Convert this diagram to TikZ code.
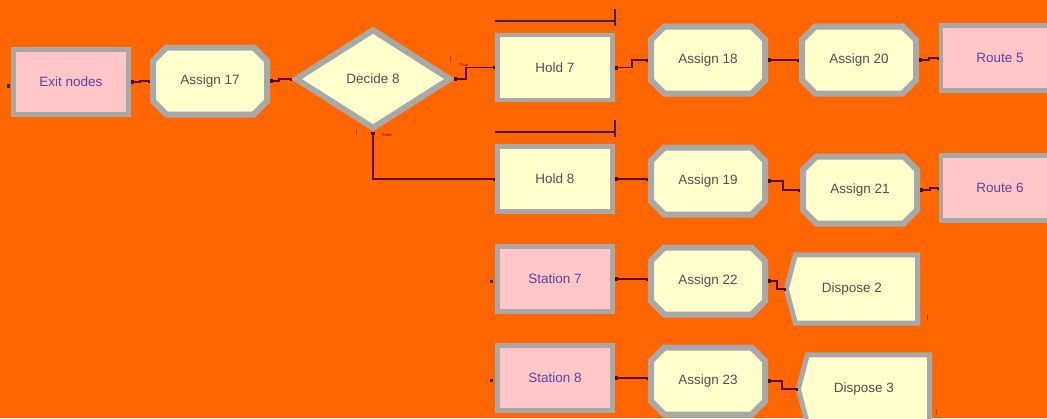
\documentclass[tikz,border=0pt]{standalone}
\usepackage{fontspec}
\setmainfont{Liberation Sans}
\usetikzlibrary{shapes.geometric,shapes.misc,arrows.meta,backgrounds}

\definecolor{canvas}{HTML}{FF6600}
\definecolor{pinkfill}{HTML}{FFC6C8}
\definecolor{yellowfill}{HTML}{FFFFCC}
\definecolor{frame}{HTML}{A8A8A8}
\definecolor{graytext}{HTML}{505050}
\definecolor{pinktext}{HTML}{6040A0}
\definecolor{linkcol}{HTML}{5A0A14}
\definecolor{queuecol}{HTML}{402060}

\tikzset{
  label font/.style={font=\fontsize{13.5}{16}\selectfont},
  basebox/.style={rectangle, draw=frame, line width=4.5pt, inner sep=0pt,
    minimum width=115pt, minimum height=65pt, label font},
  pinkbox/.style={basebox, fill=pinkfill, text=pinktext},
  yellowbox/.style={basebox, fill=yellowfill, text=graytext},
  assignbox/.style={chamfered rectangle, chamfered rectangle xsep=7pt,
    chamfered rectangle ysep=7pt, draw=frame, line width=6pt,
    fill=yellowfill, text=graytext, inner sep=0pt,
    minimum width=114pt, minimum height=67pt, label font},
  decidebox/.style={diamond, draw=frame, line width=6pt, fill=yellowfill,
    text=graytext, inner sep=0pt, minimum width=156pt, minimum height=100pt,
    label font},
  disposetext/.style={rectangle, inner sep=0pt, minimum width=131pt,
    minimum height=68pt, text=graytext, label font},
  disposeshape/.style={draw=frame, line width=5pt, fill=yellowfill},
  link/.style={draw=linkcol, line width=1.6pt,
    {Square[length=3pt,width=4pt]}-{Square[length=2pt,width=3pt]}},
  queue/.style={draw=queuecol, line width=1.6pt},
  tinytext/.style={font=\fontsize{4}{5}\selectfont, text=linkcol, inner sep=0pt},
  entry/.style={fill=black!80},
}

\begin{document}
\begin{tikzpicture}[x=1pt,y=-1pt]
\begin{pgfonlayer}{background}
  \fill[canvas] (0,0) rectangle (1047,418);
\end{pgfonlayer}
\useasboundingbox (0,0) rectangle (1047,418);

% modules
\node[pinkbox]   (exit)   at (71,82)    {Exit nodes};
\node[assignbox] (a17)    at (210,81)   {Assign 17};
\node[decidebox] (dec8)   at (373,79)   {Decide 8};
\node[yellowbox] (hold7)  at (555,67.5) {Hold 7};
\node[yellowbox] (hold8)  at (555,179)  {Hold 8};
\node[assignbox] (a18)    at (708,60)   {Assign 18};
\node[assignbox] (a20)    at (859,60)   {Assign 20};
\node[pinkbox, minimum width=118pt] (route5) at (1000,58) {Route 5};
\node[assignbox] (a19)    at (708,181)  {Assign 19};
\node[assignbox] (a21)    at (860,190)  {Assign 21};
\node[pinkbox, minimum width=118pt] (route6) at (1000,188) {Route 6};
\node[pinkbox]   (st7)    at (555,279)  {Station 7};
\node[assignbox] (a22)    at (708,281)  {Assign 22};
\node[disposetext] (disp2) at (852,289) {Dispose 2};
\node[pinkbox]   (st8)    at (555,378)  {Station 8};
\node[assignbox] (a23)    at (708,381)  {Assign 23};
\node[disposetext] (disp3) at (864,389) {Dispose 3};

% dispose outlines, behind their labels
\begin{pgfonlayer}{background}
  \foreach \d in {disp2,disp3}
    \path[disposeshape] ([xshift=9pt]\d.north west) -- (\d.north east)
      -- (\d.south east) -- ([xshift=9pt]\d.south west) -- (\d.west) -- cycle;
\end{pgfonlayer}

% queues of the hold modules
\foreach \h in {hold7,hold8}{
  \draw[queue] ([yshift=12pt]\h.north west) -- ([yshift=12pt]\h.north east);
  \draw[queue] ([yshift=24pt]\h.north east) -- ([yshift=7pt]\h.north east);
}

% entry points
\fill[entry] ([xshift=-4pt,yshift=-2pt]exit.west) rectangle ++(3,4);
\fill[entry] ([xshift=-5pt,yshift=-1pt]st7.west) rectangle ++(3,3);
\fill[entry] ([xshift=-5pt,yshift=-1pt]st8.west) rectangle ++(3,3);

% connectors
\draw[link] (exit.east) -- ++(9,0) |- (a17.west);
\draw[link] (a17.east) -- ++(9,0) |- (dec8.west);
\draw[link] (dec8.east) -- ++(12,0) |- (hold7.west);
\draw[link] (dec8.south) |- (hold8.west);
\draw[link] (hold7.east) -- ++(17,0) |- (a18.west);
\draw[link] (a18.east) -- (a20.west);
\draw[link] (a20.east) -- ++(10,0) |- (route5.west);
\draw[link] (hold8.east) -- (hold8.east -| a19.west);
\draw[link] (a19.east) -- ++(15,0) |- (a21.west);
\draw[link] (a21.east) -- ++(10,0) |- (route6.west);
\draw[link] (st7.east) -- (st7.east -| a22.west);
\draw[link] (a22.east) -- ++(9,0) |- (disp2.west);
\draw[link] (st8.east) -- (st8.east -| a23.west);
\draw[link] (a23.east) -- ++(14,0) |- (disp3.west);

% branch labels of the decide module
\node[tinytext] (truelbl)  at (464,65)  {True};
\node[tinytext] (falselbl) at (387,135) {False};
\draw[linkcol!70, line width=0.8pt] (450,56) -- (450,62);
\draw[linkcol!70, line width=0.8pt] (356,129) -- (356,135);
\draw[linkcol!70, line width=1pt] (927,314) -- (927,320);
\draw[linkcol!70, line width=1pt] (936,409) -- (936,415);
\end{tikzpicture}
\end{document}
